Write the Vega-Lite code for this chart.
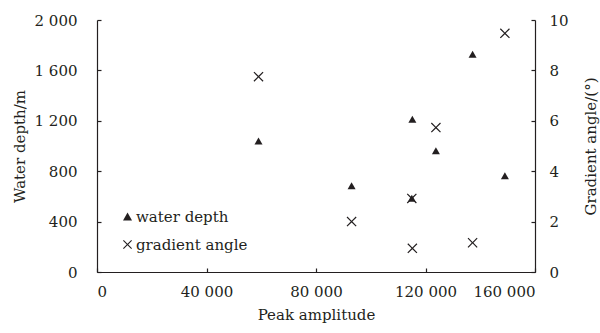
{
  "$schema": "https://vega.github.io/schema/vega-lite/v6.json",
  "width": 438,
  "height": 252,
  "autosize": "none",
  "padding": {"left": 97, "top": 20, "right": 65, "bottom": 61},
  "background": "white",
  "config": {
    "font": "DejaVu Serif",
    "view": {"stroke": null},
    "axis": {
      "grid": false,
      "domainColor": "#231f20",
      "tickColor": "#231f20",
      "labelColor": "#231f20",
      "titleColor": "#231f20",
      "labelFont": "DejaVu Serif",
      "titleFont": "DejaVu Serif",
      "labelFontSize": 15,
      "titleFontSize": 15,
      "titleFontWeight": "normal",
      "tickSize": 4,
      "domainWidth": 1.2,
      "tickWidth": 1.2
    },
    "legend": {
      "orient": "none",
      "legendX": 23,
      "legendY": 189,
      "padding": 0,
      "rowPadding": 12,
      "labelFont": "DejaVu Serif",
      "labelFontSize": 15,
      "labelColor": "#231f20",
      "labelOffset": 1,
      "symbolSize": 81,
      "symbolFillColor": "#231f20",
      "symbolStrokeWidth": 0
    }
  },
  "data": {
    "values": [
      {"amp": 59000, "depth": 1040, "angle": 7.75},
      {"amp": 93000, "depth": 685, "angle": 2.0},
      {"amp": 115200, "depth": 1212, "angle": 0.94},
      {"amp": 115000, "depth": 585, "angle": 2.92},
      {"amp": 123800, "depth": 963, "angle": 5.73},
      {"amp": 137200, "depth": 1728, "angle": 1.16},
      {"amp": 149000, "depth": 764, "angle": 9.47}
    ]
  },
  "layer": [
    {
      "mark": {"type": "point", "filled": true, "color": "#231f20", "opacity": 1, "size": 64, "strokeWidth": 0},
      "encoding": {
        "x": {
          "field": "amp", "type": "quantitative",
          "scale": {"domain": [0, 160000], "nice": false, "zero": false},
          "axis": {
            "orient": "bottom",
            "title": "Peak amplitude",
            "values": [0, 40000, 80000, 120000, 160000],
            "labelExpr": "replace(format(datum.value, ','), regexp(',', 'g'), ' ')",
            "ticks": false,
            "labelPadding": 12,
            "titlePadding": 8
          }
        },
        "y": {
          "field": "depth", "type": "quantitative",
          "scale": {"domain": [0, 2000], "nice": false},
          "axis": {
            "orient": "left",
            "title": "Water depth/m",
            "values": [0, 400, 800, 1200, 1600, 2000],
            "labelExpr": "replace(format(datum.value, ','), regexp(',', 'g'), ' ')",
            "ticks": false,
            "labelPadding": 20,
            "titlePadding": 7
          }
        },
        "shape": {
          "datum": "water depth",
          "type": "nominal",
          "scale": {
            "domain": ["water depth", "gradient angle"],
            "range": ["triangle-up", "M-1,-0.83L-0.83,-1L0,-0.17L0.83,-1L1,-0.83L0.17,0L1,0.83L0.83,1L0,0.17L-0.83,1L-1,0.83L-0.17,0Z"]
          },
          "legend": {"title": null}
        }
      }
    },
    {
      "mark": {"type": "point", "filled": true, "color": "#231f20", "opacity": 1, "size": 100, "strokeWidth": 0},
      "encoding": {
        "x": {
          "field": "amp", "type": "quantitative",
          "axis": {
            "orient": "top",
            "offset": -252,
            "title": null,
            "labels": false,
            "domain": false,
            "values": [0, 40000, 80000, 120000, 160000]
          }
        },
        "y": {
          "field": "angle", "type": "quantitative",
          "scale": {"domain": [0, 10], "nice": false},
          "axis": {
            "orient": "right",
            "title": "Gradient angle/(°)",
            "titleAngle": -90,
            "values": [0, 2, 4, 6, 8, 10],
            "ticks": false,
            "labelPadding": 14,
            "titlePadding": 30
          }
        },
        "shape": {"datum": "gradient angle", "type": "nominal"}
      }
    },
    {
      "mark": {"type": "point", "opacity": 0},
      "encoding": {
        "x": {"field": "amp", "type": "quantitative", "axis": null},
        "y": {
          "field": "depth", "type": "quantitative",
          "scale": {"domain": [0, 2000], "nice": false},
          "axis": {
            "orient": "right",
            "offset": -438,
            "title": null,
            "labels": false,
            "domain": false,
            "values": [0, 400, 800, 1200, 1600, 2000]
          }
        }
      }
    },
    {
      "mark": {"type": "point", "opacity": 0},
      "encoding": {
        "x": {"field": "amp", "type": "quantitative", "axis": null},
        "y": {
          "field": "angle", "type": "quantitative",
          "scale": {"domain": [0, 10], "nice": false},
          "axis": {
            "orient": "left",
            "offset": -438,
            "title": null,
            "labels": false,
            "domain": false,
            "values": [0, 2, 4, 6, 8, 10]
          }
        }
      }
    }
  ],
  "resolve": {
    "scale": {"y": "independent"},
    "axis": {"x": "independent", "y": "independent"}
  }
}
